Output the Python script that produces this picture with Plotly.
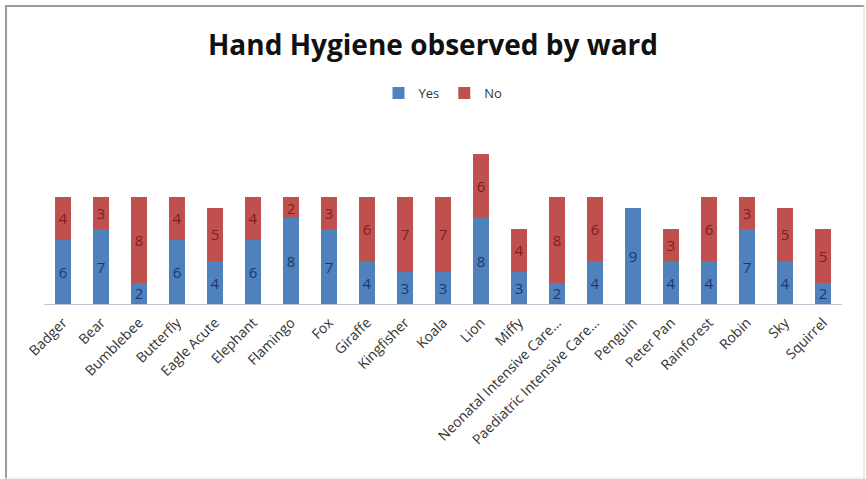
import plotly.graph_objects as go

wards = ["Badger", "Bear", "Bumblebee", "Butterfly", "Eagle Acute", "Elephant",
         "Flamingo", "Fox", "Giraffe", "Kingfisher", "Koala", "Lion", "Miffy",
         "Neonatal Intensive Care…", "Paediatric Intensive Care…", "Penguin",
         "Peter Pan", "Rainforest", "Robin", "Sky", "Squirrel"]
yes_vals = [6, 7, 2, 6, 4, 6, 8, 7, 4, 3, 3, 8, 3, 2, 4, 9, 4, 4, 7, 4, 2]
no_vals = [4, 3, 8, 4, 5, 4, 2, 3, 6, 7, 7, 6, 4, 8, 6, 0, 3, 6, 3, 5, 5]

W, H = 866, 479
L, R, T, B = 44, 24, 154, 175
pw, ph = W - L - R, H - T - B

def px(x):
    return (x - L) / pw

def py(y):
    return (H - B - y) / ph

fig = go.Figure()
fig.add_trace(go.Bar(
    x=wards, y=yes_vals, name="Yes",
    marker=dict(color="#4f81bd", line=dict(width=0)),
    text=[str(v) if v else "" for v in yes_vals],
    textposition="inside", insidetextanchor="middle",
    textfont=dict(family="Open Sans", size=15, color="#1f3864"),
    textangle=0, constraintext="none",
))
fig.add_trace(go.Bar(
    x=wards, y=no_vals, name="No",
    marker=dict(color="#c0504d", line=dict(width=0)),
    text=[str(v) if v else "" for v in no_vals],
    textposition="inside", insidetextanchor="middle",
    textfont=dict(family="Open Sans", size=15, color="#7f1f1c"),
    textangle=0, constraintext="none",
))

shapes = [
    dict(type="line", xref="paper", yref="paper", x0=px(5), x1=px(864), y0=py(6), y1=py(6),
         line=dict(color="#9a9a9a", width=2)),
    dict(type="line", xref="paper", yref="paper", x0=px(6), x1=px(6), y0=py(5), y1=py(479),
         line=dict(color="#9a9a9a", width=2)),
    dict(type="line", xref="paper", yref="paper", x0=px(864), x1=px(864), y0=py(5), y1=py(479),
         line=dict(color="#d8d8d8", width=1)),
    dict(type="line", xref="paper", yref="paper", x0=px(5), x1=px(864), y0=py(478), y1=py(478),
         line=dict(color="#e4e4e4", width=1)),
]

fig.update_layout(
    width=W, height=H,
    margin=dict(l=L, r=R, t=T, b=B),
    barmode="stack", bargap=0.6,
    paper_bgcolor="white", plot_bgcolor="white",
    uniformtext=dict(mode="show", minsize=15),
    title=dict(text="<b>Hand Hygiene observed by ward</b>", x=0.5, xanchor="center",
               y=1 - 45 / H, yanchor="middle",
               font=dict(family="Open Sans", size=28, color="#111111")),
    legend=dict(orientation="h", x=0.5, xanchor="center", y=py(93), yanchor="middle",
                traceorder="normal",
                font=dict(family="Open Sans", size=13, color="#333333"),
                itemwidth=30, tracegroupgap=0),
    xaxis=dict(tickangle=-45, showline=True, linecolor="#bfc8d6", linewidth=1,
               ticks="outside", ticklen=4, tickcolor="rgba(0,0,0,0)",
               tickfont=dict(family="Open Sans", size=14, color="#333333"),
               showgrid=False),
    yaxis=dict(range=[0, 14], visible=False, showgrid=False),
    shapes=shapes,
    showlegend=True,
)

fig.write_html("out.html")
